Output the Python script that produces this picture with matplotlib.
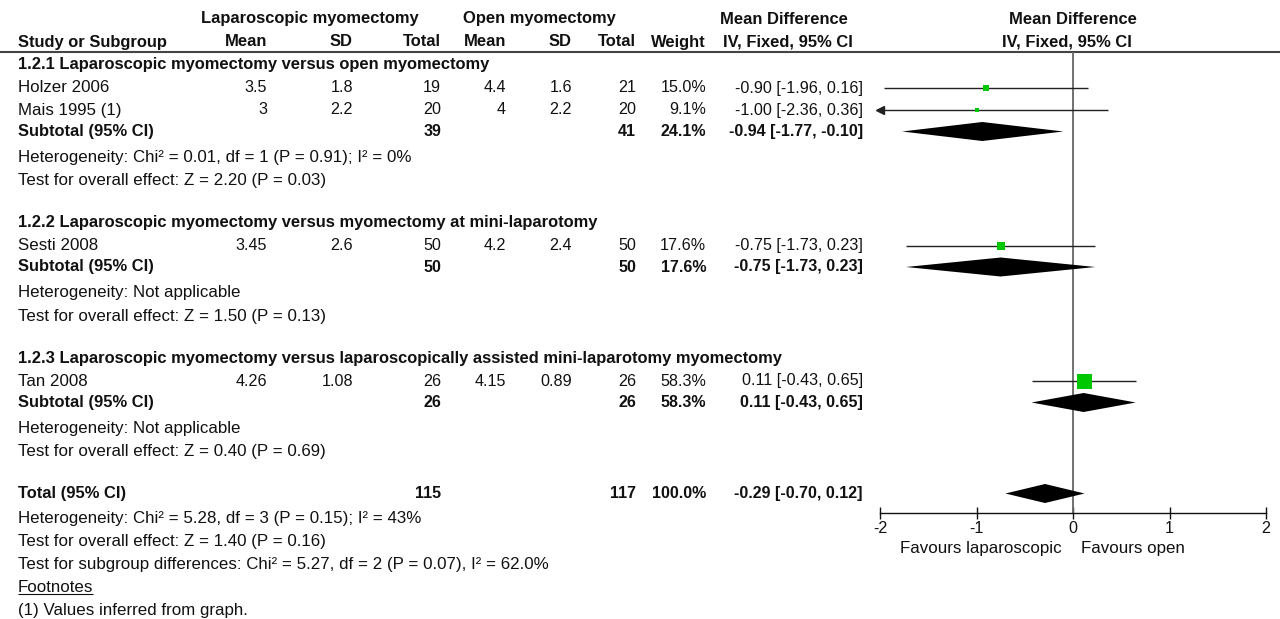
"""Forest plot: laparoscopic vs open myomectomy, mean difference (IV, fixed, 95% CI)."""

import matplotlib.pyplot as plt
import numpy as np

W, H = 1280, 619
FONT = ["Liberation Sans", "DejaVu Sans"]
FS_TXT, FS_NUM = 12.2, 11.6
FS_BTXT, FS_BNUM = 11.9, 11.5
GREEN = "#00C800"
INK = "#111111"

# Study-level data
studies = ["Holzer 2006", "Mais 1995 (1)", "Sesti 2008", "Tan 2008"]
lap_mean = [3.5, 3, 3.45, 4.26]
lap_sd = [1.8, 2.2, 2.6, 1.08]
lap_n = [19, 20, 50, 26]
open_mean = [4.4, 4, 4.2, 4.15]
open_sd = [1.6, 2.2, 2.4, 0.89]
open_n = [21, 20, 50, 26]
weight = [15.0, 9.1, 17.6, 58.3]
md = [-0.90, -1.00, -0.75, 0.11]
ci_lo = [-1.96, -2.36, -1.73, -0.43]
ci_hi = [0.16, 0.36, 0.23, 0.65]

# Subgroups
group_titles = [
    "1.2.1 Laparoscopic myomectomy versus open myomectomy",
    "1.2.2 Laparoscopic myomectomy versus myomectomy at mini-laparotomy",
    "1.2.3 Laparoscopic myomectomy versus laparoscopically assisted mini-laparotomy myomectomy",
]
group_members = [[0, 1], [2], [3]]
sub_lap_n = [39, 50, 26]
sub_open_n = [41, 50, 26]
sub_weight = [24.1, 17.6, 58.3]
sub_md = [-0.94, -0.75, 0.11]
sub_lo = [-1.77, -1.73, -0.43]
sub_hi = [-0.10, 0.23, 0.65]
sub_het = [
    "Heterogeneity: Chi² = 0.01, df = 1 (P = 0.91); I² = 0%",
    "Heterogeneity: Not applicable",
    "Heterogeneity: Not applicable",
]
sub_test = [
    "Test for overall effect: Z = 2.20 (P = 0.03)",
    "Test for overall effect: Z = 1.50 (P = 0.13)",
    "Test for overall effect: Z = 0.40 (P = 0.69)",
]

# Overall
total_lap_n = 115
total_open_n = 117
total_weight = 100.0
total_md = -0.29
total_lo = -0.70
total_hi = 0.12
total_notes = [
    "Heterogeneity: Chi² = 5.28, df = 3 (P = 0.15); I² = 43%",
    "Test for overall effect: Z = 1.40 (P = 0.16)",
    "Test for subgroup differences: Chi² = 5.27, df = 2 (P = 0.07), I² = 62.0%",
]
footnote = "(1) Values inferred from graph."

x_ticks = [-2, -1, 0, 1, 2]
x_lim = (-2, 2)

# Layout (pixel columns: right edges of the numeric columns)
COL_NAME = 18
COL_LMEAN, COL_LSD, COL_LN = 267, 353, 441
COL_OMEAN, COL_OSD, COL_ON = 506, 572, 636
COL_W, COL_CI = 706, 863
PLOT_L, PLOT_R = 880, 1266
RULE_Y, AXIS_Y = 52, 513
DIAMOND_H = 9.5

plt.rcParams["font.family"] = FONT
plt.rcParams["axes.unicode_minus"] = False

fig = plt.figure(figsize=(W / 100, H / 100), dpi=100)
fig.patch.set_facecolor("white")
ax = fig.add_axes([0, 0, 1, 1])
ax.set_xlim(0, W)
ax.set_ylim(H, 0)
ax.axis("off")

fx = fig.add_axes([PLOT_L / W, (H - AXIS_Y) / H, (PLOT_R - PLOT_L) / W, AXIS_Y / H])
fx.set_xlim(*x_lim)
fx.set_ylim(AXIS_Y, 0)
fx.patch.set_alpha(0)
for side in ("top", "left", "right"):
    fx.spines[side].set_visible(False)
fx.spines["bottom"].set_linewidth(1.0)
fx.spines["bottom"].set_color(INK)
fx.set_yticks([])
fx.set_xticks(x_ticks)
fx.set_xticklabels([str(t) for t in x_ticks])
fx.tick_params(axis="x", direction="inout", length=9, width=1.0, pad=1,
               labelsize=FS_NUM, colors=INK)


def txt(x, y, s, ha="left", bold=False, num=False):
    if bold:
        size = FS_BNUM if num else FS_BTXT
    else:
        size = FS_NUM if num else FS_TXT
    return ax.text(x, y, s, ha=ha, va="center", fontsize=size, color=INK,
                   fontweight="bold" if bold else "normal")


def num(x, y, s, bold=False):
    return txt(x, y, s, ha="right", bold=bold, num=True)


def fmt_ci(m, lo, hi):
    return f"{m:.2f} [{lo:.2f}, {hi:.2f}]"


def square_side(w):
    return 15.0 * (w / max(weight)) ** 0.6


def diamond(y, m, lo, hi):
    fx.fill([lo, m, hi, m], [y, y - DIAMOND_H, y, y + DIAMOND_H],
            color="black", lw=0, zorder=4)


# Column headers
txt(310, 19, "Laparoscopic myomectomy", ha="center", bold=True)
txt(539, 19, "Open myomectomy", ha="center", bold=True)
txt(784, 19, "Mean Difference", ha="center", bold=True)
txt(1073, 19, "Mean Difference", ha="center", bold=True)
txt(COL_NAME, 42, "Study or Subgroup", bold=True)
for x, s in [(COL_LMEAN, "Mean"), (COL_LSD, "SD"), (COL_LN, "Total"),
             (COL_OMEAN, "Mean"), (COL_OSD, "SD"), (COL_ON, "Total"),
             (COL_W, "Weight"), (853, "IV, Fixed, 95% CI")]:
    txt(x, 42, s, ha="right", bold=True)
txt(1067, 42, "IV, Fixed, 95% CI", ha="center", bold=True)
ax.hlines(RULE_Y, 0, W, color="#444444", lw=1.5)

# Line of no effect
fx.vlines(0, RULE_Y, AXIS_Y, color="#666666", lw=1.3, zorder=2)

y = 65
for g, title in enumerate(group_titles):
    txt(COL_NAME, y, title, bold=True)
    y += 23
    for i in group_members[g]:
        txt(COL_NAME, y, studies[i])
        num(COL_LMEAN, y, f"{lap_mean[i]:g}")
        num(COL_LSD, y, f"{lap_sd[i]:g}")
        num(COL_LN, y, f"{lap_n[i]}")
        num(COL_OMEAN, y, f"{open_mean[i]:g}")
        num(COL_OSD, y, f"{open_sd[i]:g}")
        num(COL_ON, y, f"{open_n[i]}")
        num(COL_W, y, f"{weight[i]:.1f}%")
        num(COL_CI, y, fmt_ci(md[i], ci_lo[i], ci_hi[i]))

        lo = max(ci_lo[i], x_lim[0])
        hi = min(ci_hi[i], x_lim[1])
        fx.hlines(y, lo, hi, color="#222222", lw=1.0, zorder=3)
        if ci_lo[i] < x_lim[0]:
            fx.plot(x_lim[0], y, marker="<", ms=6, color="#222222",
                    clip_on=False, zorder=3)
        if ci_hi[i] > x_lim[1]:
            fx.plot(x_lim[1], y, marker=">", ms=6, color="#222222",
                    clip_on=False, zorder=3)
        side_pt = square_side(weight[i]) * 0.72
        fx.scatter(md[i], y, s=side_pt ** 2, marker="s", color=GREEN,
                   linewidths=0, zorder=5)
        y += 22
    y -= 0.5
    txt(COL_NAME, y, "Subtotal (95% CI)", bold=True)
    num(COL_LN, y, f"{sub_lap_n[g]}", bold=True)
    num(COL_ON, y, f"{sub_open_n[g]}", bold=True)
    num(COL_W, y, f"{sub_weight[g]:.1f}%", bold=True)
    num(COL_CI, y, fmt_ci(sub_md[g], sub_lo[g], sub_hi[g]), bold=True)
    diamond(y, sub_md[g], sub_lo[g], sub_hi[g])
    y += 26
    txt(COL_NAME, y, sub_het[g])
    y += 23
    txt(COL_NAME, y, sub_test[g])
    y += 42

txt(COL_NAME, y, "Total (95% CI)", bold=True)
num(COL_LN, y, f"{total_lap_n}", bold=True)
num(COL_ON, y, f"{total_open_n}", bold=True)
num(COL_W, y, f"{total_weight:.1f}%", bold=True)
num(COL_CI, y, fmt_ci(total_md, total_lo, total_hi), bold=True)
diamond(y, total_md, total_lo, total_hi)
y += 25
for note in total_notes:
    txt(COL_NAME, y, note)
    y += 23
foot = txt(COL_NAME, y, "Footnotes")
fig.canvas.draw()
bb = foot.get_window_extent().transformed(ax.transData.inverted())
ax.hlines(max(bb.y0, bb.y1) - 1, min(bb.x0, bb.x1), max(bb.x0, bb.x1),
          color=INK, lw=0.8)
y += 22.5
txt(COL_NAME, y, footnote)

# Direction labels under the axis
zero_px = PLOT_L + (0 - x_lim[0]) / (x_lim[1] - x_lim[0]) * (PLOT_R - PLOT_L)
txt(zero_px - 11, 549, "Favours laparoscopic", ha="right")
txt(zero_px + 8, 549, "Favours open")

fig.savefig("out.png", dpi=100, facecolor="white")
